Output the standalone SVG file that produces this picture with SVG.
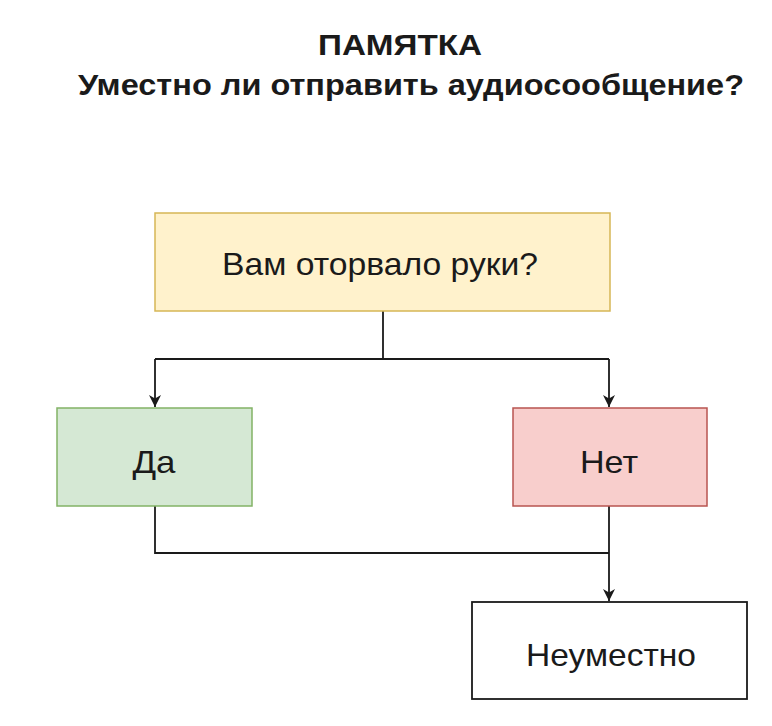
<svg xmlns="http://www.w3.org/2000/svg" width="772" height="726" viewBox="0 0 772 726">
<defs>
<style>
.t{font-family:"Liberation Sans",Arial,sans-serif;fill:#1a1a1a;text-anchor:middle}
.h{font-weight:bold;font-size:30px}
.n{font-size:32px}
.e{stroke:#1a1a1a;stroke-width:1.8;fill:none}
</style>
<marker id="a" viewBox="0 0 10 10" refX="10" refY="5" markerWidth="12" markerHeight="12" markerUnits="userSpaceOnUse" orient="auto">
<path d="M0,0 L10,5 L0,10 L3,5 Z" fill="#1a1a1a"/>
</marker>
</defs>
<rect width="772" height="726" fill="#fff"/>
<g id="title">
<text class="t h" x="400" y="55" textLength="164" lengthAdjust="spacingAndGlyphs">ПАМЯТКА</text>
<text class="t h" x="411" y="95" textLength="666" lengthAdjust="spacingAndGlyphs">Уместно ли отправить аудиосообщение?</text>
</g>
<g id="connectors">
<path class="e" d="M383,311 V359 M155,359 H609"/>
<path class="e" d="M155,359 V407" marker-end="url(#a)"/>
<path class="e" d="M609,359 V407" marker-end="url(#a)"/>
<path class="e" d="M155,506 V553 H609"/>
<path class="e" d="M609,506 V601" marker-end="url(#a)"/>
</g>
<g id="q">
<rect x="155" y="213" width="455" height="98" fill="#fff2cc" stroke="#d6b656" stroke-width="1.5"/>
<text class="t n" x="380" y="275" textLength="316" lengthAdjust="spacingAndGlyphs">Вам оторвало руки?</text>
</g>
<g id="yes">
<rect x="57" y="408" width="195" height="98" fill="#d5e8d4" stroke="#82b366" stroke-width="1.5"/>
<text class="t n" x="154" y="473" textLength="43" lengthAdjust="spacingAndGlyphs">Да</text>
</g>
<g id="no">
<rect x="513" y="408" width="194" height="98" fill="#f8cecc" stroke="#b85450" stroke-width="1.5"/>
<text class="t n" x="609" y="473" textLength="58" lengthAdjust="spacingAndGlyphs">Нет</text>
</g>
<g id="res">
<rect x="472" y="602" width="275" height="97" fill="#fff" stroke="#1a1a1a" stroke-width="1.8"/>
<text class="t n" x="611" y="666" textLength="170" lengthAdjust="spacingAndGlyphs">Неуместно</text>
</g>
</svg>
